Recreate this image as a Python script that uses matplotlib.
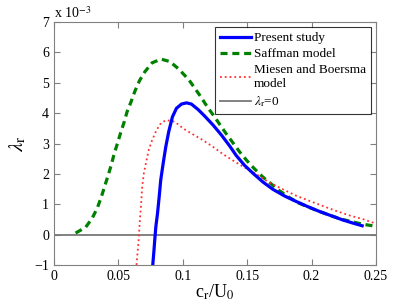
import matplotlib
matplotlib.use('Agg')
import matplotlib.pyplot as plt

plt.rcParams.update({
    'font.family': 'Liberation Serif',
    'mathtext.fontset': 'stix',
    'font.size': 10,
    'axes.edgecolor': '#808080',
    'xtick.color': '#808080',
    'ytick.color': '#808080',
    'xtick.labelcolor': 'black',
    'ytick.labelcolor': 'black',
})

# ── Data (lambda_r in units of 1e-3) ──
present_x = [0.0767, 0.0775, 0.0783, 0.0791, 0.0804, 0.0817, 0.0829, 0.0848, 0.0868,
             0.0891, 0.0920, 0.0951, 0.0990, 0.1029, 0.1067, 0.1119, 0.1171, 0.1235,
             0.1300, 0.1364, 0.1416, 0.1480, 0.1545, 0.1623, 0.1700, 0.1791, 0.1881,
             0.1971, 0.2062, 0.2153, 0.2243, 0.2320, 0.2393]
present_y = [-1.0, -0.6, -0.15, 0.26, 0.70, 1.25, 1.80, 2.35, 2.89,
             3.39, 3.88, 4.16, 4.30, 4.34, 4.30, 4.12, 3.90, 3.61,
             3.28, 2.92, 2.60, 2.28, 2.02, 1.73, 1.49, 1.27, 1.09,
             0.92, 0.76, 0.62, 0.48, 0.38, 0.29]

saffman_x = [0.0168, 0.0246, 0.0297, 0.0336, 0.0367, 0.0393, 0.0419, 0.0444, 0.0465,
             0.0491, 0.0517, 0.0543, 0.0568, 0.0599, 0.0628, 0.0664, 0.0705, 0.0762,
             0.0832, 0.0900, 0.0970, 0.1049, 0.1140, 0.1190, 0.1243, 0.1287, 0.1339,
             0.1390, 0.1442, 0.1499, 0.1558, 0.1618, 0.1680, 0.1752, 0.1824, 0.1894,
             0.1979, 0.2062, 0.2153, 0.2230, 0.2308, 0.2398, 0.2475, 0.2500]
saffman_y = [0.05, 0.24, 0.54, 0.87, 1.23, 1.58, 1.93, 2.28, 2.62,
             2.98, 3.34, 3.68, 4.05, 4.38, 4.72, 5.07, 5.36, 5.66,
             5.78, 5.70, 5.45, 5.09, 4.54, 4.21, 3.90, 3.63, 3.31,
             3.02, 2.72, 2.43, 2.16, 1.91, 1.69, 1.44, 1.23, 1.05,
             0.90, 0.76, 0.62, 0.51, 0.43, 0.34, 0.29, 0.28]

miesen_x = [0.0641, 0.0650, 0.0659, 0.0667, 0.0677, 0.0685, 0.0698, 0.0719, 0.0736,
            0.0762, 0.0796, 0.0832, 0.0873, 0.0938, 0.1002, 0.1080, 0.1157, 0.1235,
            0.1312, 0.1390, 0.1468, 0.1571, 0.1674, 0.1778, 0.1881, 0.1984, 0.2088,
            0.2191, 0.2295, 0.2398, 0.2500]
miesen_y = [-1.0, -0.55, -0.1, 0.48, 1.03, 1.58, 2.02, 2.46, 2.79,
            3.11, 3.44, 3.68, 3.77, 3.72, 3.50, 3.30, 3.11, 2.89,
            2.65, 2.44, 2.24, 1.99, 1.71, 1.49, 1.28, 1.11, 0.94,
            0.78, 0.63, 0.51, 0.36]

xticks = [0, 0.05, 0.1, 0.15, 0.2, 0.25]
xtick_labels = ['0', '0.05', '0.1', '0.15', '0.2', '0.25']
yticks = [-1, 0, 1, 2, 3, 4, 5, 6, 7]

fig = plt.figure(figsize=(4.15, 3.07), dpi=100)
ax = fig.add_axes([0.130, 0.137, 0.776, 0.791])

ax.plot(present_x, present_y, '-', color='#0000ff', lw=2.3, label='Present study', zorder=4)
ax.plot(saffman_x, saffman_y, '--', color='#008000', lw=2.3, dashes=(2.2, 1.5), label='Saffman model', zorder=3)
ax.plot(miesen_x, miesen_y, ':', color='#ff3030', lw=1.3, label='Miesen and Boersma\nmodel', zorder=3)
ax.axhline(0, color='#777777', lw=1.3, label=r'$\lambda_{\rm r}$=0', zorder=2)

ax.set_xlim(0, 0.25)
ax.set_ylim(-1, 7)
ax.set_xticks(xticks)
ax.set_xticklabels(xtick_labels)
ax.set_yticks(yticks)
ax.set_yticklabels([str(v).replace('-', '\u2212') for v in yticks])
ax.tick_params(direction='in', top=True, right=True, length=4, labelsize=10)

ax.set_xlabel(r'c$_{\rm r}$/U$_0$', fontsize=13, labelpad=0)
ax.set_ylabel(r'$\lambda_{\rm r}$', fontsize=15, labelpad=4)
ax.text(0.0, 1.005, r'x 10$^{-3}$', transform=ax.transAxes, fontsize=10, va='bottom', ha='left')

leg = ax.legend(loc='upper right', fontsize=9.5, frameon=True, fancybox=False,
                borderaxespad=0.4, handlelength=2.4, handletextpad=0.2,
                borderpad=0.35, labelspacing=0.3)
leg.get_frame().set_edgecolor('black')
leg.get_frame().set_linewidth(0.8)

plt.savefig('out.png', dpi=100)
